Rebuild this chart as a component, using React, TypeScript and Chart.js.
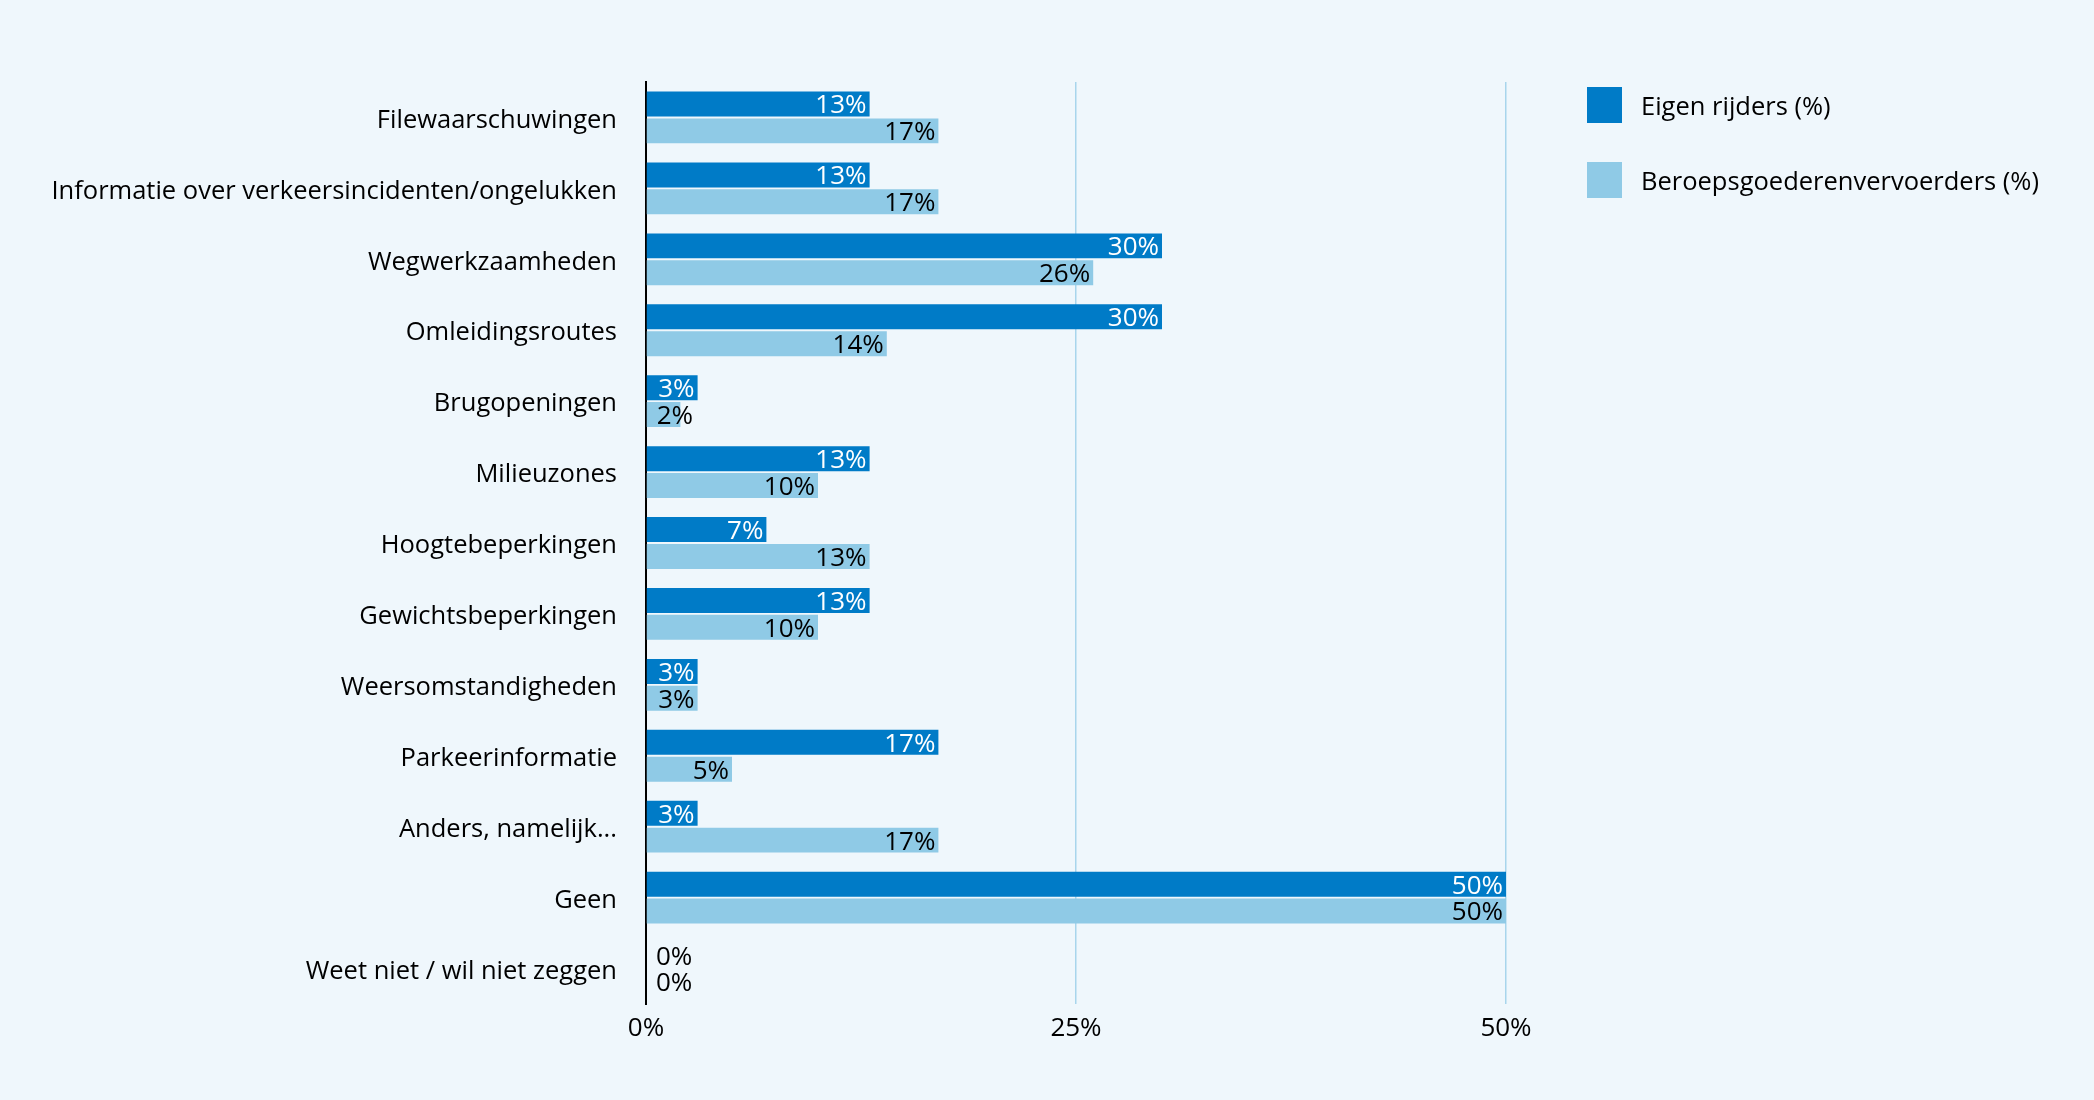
import React, { useEffect, useRef } from "react";
import { Chart, registerables } from "chart.js";

Chart.register(...registerables);

const categories = [
  "Filewaarschuwingen",
  "Informatie over verkeersincidenten/ongelukken",
  "Wegwerkzaamheden",
  "Omleidingsroutes",
  "Brugopeningen",
  "Milieuzones",
  "Hoogtebeperkingen",
  "Gewichtsbeperkingen",
  "Weersomstandigheden",
  "Parkeerinformatie",
  "Anders, namelijk...",
  "Geen",
  "Weet niet / wil niet zeggen",
];

const eigenRijders = [13, 13, 30, 30, 3, 13, 7, 13, 3, 17, 3, 50, 0];
const beroepsVervoerders = [17, 17, 26, 14, 2, 10, 13, 10, 3, 5, 17, 50, 0];

const seriesNames = ["Eigen rijders (%)", "Beroepsgoederenvervoerders (%)"];
const xTicks = [0, 25, 50];

const FONT = '"Open Sans", sans-serif';
const DARK = "#007BC7";
const LIGHT = "#8FCAE6";
const BG = "#EFF7FC";
const GRID = "#A8D5EC";

// Percentage labels at the end of each bar (inside when they fit)
const barLabels = {
  id: "barLabels",
  afterDatasetsDraw(chart: any) {
    const ctx = chart.ctx;
    ctx.save();
    ctx.font = `26px ${FONT}`;
    ctx.textBaseline = "middle";
    chart.data.datasets.forEach((ds: any, di: number) => {
      const meta = chart.getDatasetMeta(di);
      meta.data.forEach((el: any, i: number) => {
        const v = ds.data[i];
        const { x, y, base } = el.getProps(["x", "y", "base"], true);
        const text = `${v}%`;
        const w = ctx.measureText(text).width;
        const len = x - base;
        if (v > 0 && w + 6 <= len) {
          ctx.textAlign = "right";
          ctx.fillStyle = di === 0 ? "#ffffff" : "#000000";
          ctx.fillText(text, x - 3, y + 2);
        } else {
          ctx.textAlign = "left";
          ctx.fillStyle = "#000000";
          ctx.fillText(text, base + 10, y + 2);
        }
      });
    });
    ctx.restore();
  },
};

// Legend drawn to the right of the plot area
const sideLegend = {
  id: "sideLegend",
  afterDraw(chart: any) {
    const ctx = chart.ctx;
    const area = chart.chartArea;
    const x0 = area.right + 81;
    const rows = [87, 162];
    ctx.save();
    ctx.font = `25.5px ${FONT}`;
    ctx.textBaseline = "middle";
    ctx.textAlign = "left";
    chart.data.datasets.forEach((ds: any, i: number) => {
      const top = rows[i];
      ctx.fillStyle = ds.backgroundColor;
      ctx.fillRect(x0, top, 35, 36);
      ctx.fillStyle = "#000000";
      ctx.fillText(ds.label, x0 + 54, top + 21);
    });
    ctx.restore();
  },
};

export default function App() {
  const canvasRef = useRef<HTMLCanvasElement | null>(null);

  useEffect(() => {
    if (!canvasRef.current) return;
    const chart = new Chart(canvasRef.current, {
      type: "bar",
      data: {
        labels: categories,
        datasets: [
          {
            label: seriesNames[0],
            data: eigenRijders,
            backgroundColor: DARK,
            barPercentage: 0.93,
            categoryPercentage: 0.757,
          },
          {
            label: seriesNames[1],
            data: beroepsVervoerders,
            backgroundColor: LIGHT,
            barPercentage: 0.93,
            categoryPercentage: 0.757,
          },
        ],
      },
      options: {
        indexAxis: "y",
        animation: false,
        responsive: false,
        maintainAspectRatio: false,
        layout: { padding: { top: 82, right: 588, bottom: 0, left: 0 } },
        plugins: {
          legend: { display: false },
          tooltip: { enabled: false },
        },
        scales: {
          x: {
            min: 0,
            max: 50,
            afterBuildTicks(scale: any) {
              scale.ticks = xTicks.map((v) => ({ value: v }));
            },
            afterFit(scale: any) {
              scale.height = 96;
            },
            grid: {
              drawTicks: false,
              lineWidth: 1.5,
              color: (c: any) => (c.tick && c.tick.value === 0 ? "rgba(0,0,0,0)" : GRID),
            },
            border: { display: false },
            ticks: {
              padding: 9,
              color: "#000000",
              font: { family: FONT, size: 26 },
              callback: (v: any) => `${v}%`,
            },
          },
          y: {
            afterFit(scale: any) {
              scale.width = 646;
            },
            grid: { display: false, drawTicks: false },
            border: { display: true, color: "#000000", width: 2 },
            ticks: {
              padding: 29,
              labelOffset: 3,
              color: "#000000",
              font: { family: FONT, size: 25.5 },
            },
          },
        },
      },
      plugins: [barLabels, sideLegend],
    });
    return () => chart.destroy();
  }, []);

  return (
    <div
      style={{
        position: "fixed",
        left: 0,
        top: 0,
        width: 2094,
        height: 1100,
        background: BG,
      }}
    >
      <canvas ref={canvasRef} width={2094} height={1100} style={{ display: "block" }} />
    </div>
  );
}
